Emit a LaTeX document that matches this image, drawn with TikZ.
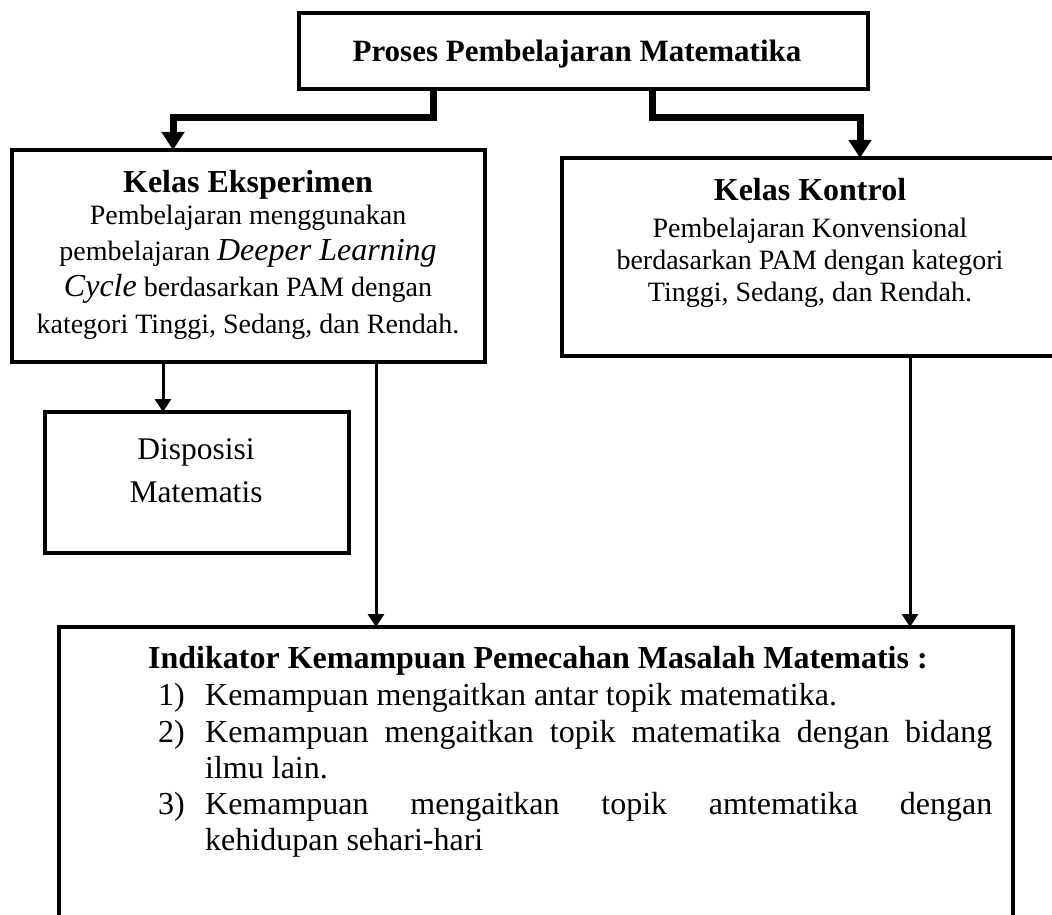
\documentclass[tikz,border=0pt]{standalone}
\usepackage{fontspec}
\setmainfont{Liberation Serif}
\usetikzlibrary{arrows.meta}
\begin{document}
\begin{tikzpicture}[x=1pt,y=-1pt,
  box/.style={draw, line width=4pt, rectangle, inner sep=0pt, outer sep=0pt},
  heavy/.style={line width=7pt, -{Triangle[length=18pt,width=22pt]}},
  light/.style={line width=3pt, -{Triangle[length=13pt,width=16pt]}},
  hd/.style={anchor=base, inner sep=0pt, font=\bfseries\fontsize{32}{38}\selectfont},
  bd/.style={anchor=base, inner sep=0pt, font=\fontsize{28}{34}\selectfont},
  bg/.style={anchor=base, inner sep=0pt, font=\fontsize{32}{38}\selectfont},
]
\useasboundingbox (0,0) rectangle (1052,915);
\clip (0,0) rectangle (1052,915);
\fill[white] (0,0) rectangle (1052,915);

% boxes
\node[box, minimum width=569pt, minimum height=76pt] (proc) at (583.5,51) {};
\node[box, minimum width=473pt, minimum height=212pt] (eks) at (248.5,256) {};
\node[box, minimum width=496pt, minimum height=198pt] (kon) at (810,257) {};
\node[box, minimum width=304pt, minimum height=141pt] (disp) at (197,482.5) {};
\node[box, minimum width=954pt, minimum height=333pt] (ind) at (536,793.5) {};

% heavy connectors
\coordinate (p1) at (433,118);
\coordinate (q1) at (173,118);
\coordinate (p2) at (652,118);
\coordinate (q2) at (860,118);
\draw[heavy] (proc.south -| p1) -- (p1) -- (q1) -- (eks.north -| q1);
\draw[heavy] (proc.south -| p2) -- (p2) -- (q2) -- (kon.north -| q2);

% light connectors
\coordinate (r1) at (163,0);
\coordinate (r2) at (376,0);
\coordinate (r3) at (910,0);
\draw[light] (eks.south -| r1) -- (disp.north -| r1);
\draw[light] (eks.south -| r2) -- (ind.north -| r2);
\draw[light] (kon.south -| r3) -- (ind.north -| r3);

% texts
\node[hd, font=\bfseries\fontsize{31}{36}\selectfont] (tproc) at (577,62) {Proses Pembelajaran Matematika};

\node[hd] (teks) at (248,193) {Kelas Eksperimen};
\node[bd] (e1) at (248,224) {Pembelajaran menggunakan};
\node[bd] (e2) at (248,260) {pembelajaran {\itshape\fontsize{32}{38}\selectfont Deeper Learning}};
\node[bd] (e3) at (248,296) {{\itshape\fontsize{32}{38}\selectfont Cycle} berdasarkan PAM dengan};
\node[bd] (e4) at (248,333) {kategori Tinggi, Sedang, dan Rendah.};

\node[hd] (tkon) at (810,200) {Kelas Kontrol};
\node[bd] (k1) at (810,237) {Pembelajaran Konvensional};
\node[bd] (k2) at (810,269) {berdasarkan PAM dengan kategori};
\node[bd] (k3) at (810,301) {Tinggi, Sedang, dan Rendah.};

\node[bg, font=\fontsize{31.5}{38}\selectfont] (d1) at (196,459) {Disposisi};
\node[bg, font=\fontsize{31.5}{38}\selectfont] (d2) at (196,502) {Matematis};

\node[hd, anchor=base west] (tind) at (148,668) {Indikator Kemampuan Pemecahan Masalah Matematis :};
\node[bg, anchor=base west] (i1) at (158,705) {\makebox[47pt][l]{1)}Kemampuan mengaitkan antar topik matematika.};
\node[bg, anchor=base west] (i2) at (158,742) {\makebox[47pt][l]{2)}\makebox[787pt][s]{Kemampuan mengaitkan topik matematika dengan bidang}};
\node[bg, anchor=base west] (i2b) at (205,778) {ilmu lain.};
\node[bg, anchor=base west] (i3) at (158,814) {\makebox[47pt][l]{3)}\makebox[787pt][s]{Kemampuan mengaitkan topik amtematika dengan}};
\node[bg, anchor=base west] (i3b) at (205,850) {kehidupan sehari-hari};
\end{tikzpicture}
\end{document}
